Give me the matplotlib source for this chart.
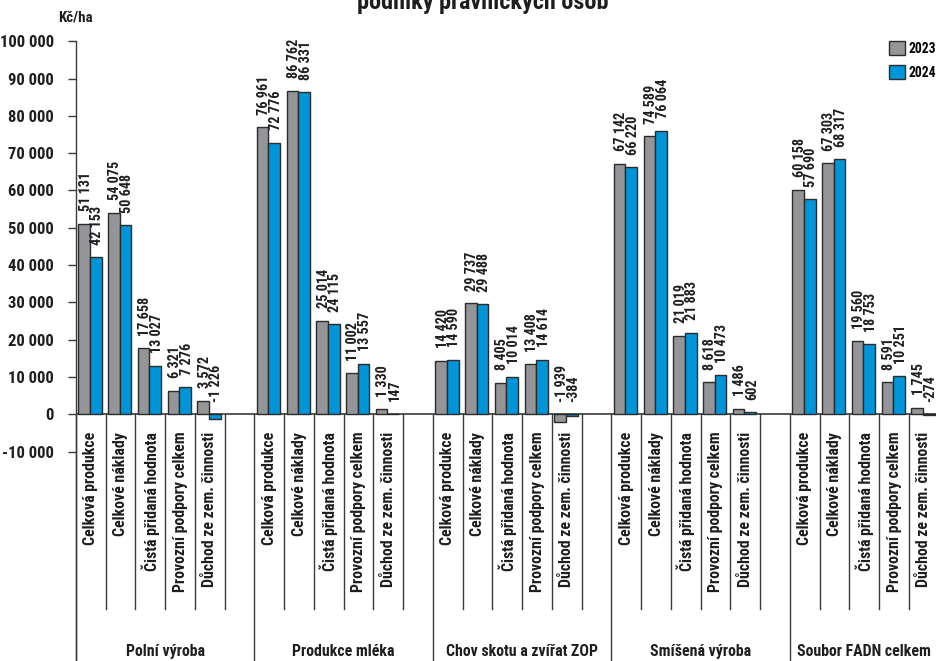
import matplotlib.pyplot as plt
import matplotlib.font_manager as fm

# pick the narrowest installed sans family (the reference uses a condensed face)
avail = {f.name for f in fm.fontManager.ttflist}
FONT, SC = "DejaVu Sans", 0.85
for fam, scale in [("Liberation Sans Narrow", 1.2), ("Roboto Condensed", 1.2), ("Roboto", 1.0)]:
    if fam in avail:
        FONT, SC = fam, scale
        break
plt.rcParams['font.family'] = [FONT, 'DejaVu Sans']
plt.rcParams['font.weight'] = 'bold'

groups = ["Polní výroba", "Produkce mléka", "Chov skotu a zvířat ZOP",
          "Smíšená výroba", "Soubor FADN celkem"]
categories = ["Celková produkce", "Celkové náklady", "Čistá přidaná hodnota",
              "Provozní podpory celkem", "Důchod ze zem. činnosti"]
series_names = ["2023", "2024"]

vals_2023 = [
    [51131, 54075, 17658, 6321, 3572],
    [76961, 86762, 25014, 11002, 1330],
    [14420, 29737, 8405, 13408, -1939],
    [67142, 74589, 21019, 8618, 1486],
    [60158, 67303, 19560, 8591, 1745],
]
vals_2024 = [
    [42153, 50648, 13027, 7276, -1226],
    [72776, 86331, 24115, 13557, 147],
    [14590, 29488, 10014, 14614, -384],
    [66220, 76064, 21883, 10473, 602],
    [57690, 68317, 18753, 10251, -274],
]
yticks = [-10000, 0, 10000, 20000, 30000, 40000, 50000, 60000, 70000, 80000, 90000, 100000]

GREY = "#939598"
BLUE = "#0095d8"
EDGE = "#2b2b2b"
TXT = "#1e1e1e"
LINE = "#3a3a3a"


def fmt(v):
    return f"{v:,}".replace(",", " ")


fig = plt.figure(figsize=(9.37, 6.61), dpi=100)
W, H = 937, 661
slot_px = 29.75
ax = fig.add_axes([76 / W, 0, 30 * slot_px / W, (H - 41.3) / H])
ax.set_xlim(0, 30)
ax.set_ylim(-66140, 100000)
x_visible = (W - 76) / slot_px  # the chart runs past the right edge of the image

bw = 0.393
n_slots = len(categories) + 1
for g in range(len(groups)):
    for c in range(len(categories)):
        x0 = g * n_slots + c
        for k, (vals, col) in enumerate([(vals_2023, GREY), (vals_2024, BLUE)]):
            v = vals[g][c]
            xc = x0 + 0.077 + bw / 2 + k * bw
            ax.bar(xc, v, width=bw, color=col, edgecolor=EDGE, linewidth=1.0, zorder=3)
            ax.annotate(fmt(v), (xc + 0.05, max(v, 0)), xytext=(0, 9),
                        textcoords="offset points", rotation=90, ha="center",
                        va="bottom", fontsize=8.5 * SC, color=TXT, zorder=4)

# zero line
ax.axhline(0, color=LINE, lw=1.2, zorder=2)

# separators and category / group labels
for i in range(31):
    if i % n_slots == 0:
        ax.plot([i, i], [0, -66140], color=LINE, lw=1.0, clip_on=False)
    else:
        ax.plot([i, i], [0, -52200], color=LINE, lw=1.0)
for g, name in enumerate(groups):
    for c, cat in enumerate(categories):
        ax.text(g * n_slots + c + 0.5, -4700, cat, rotation=90, ha="center",
                va="top", fontsize=9.5 * SC, color=TXT)
    start = g * n_slots
    end = min(start + n_slots, x_visible)
    ax.text((start + end) / 2, -63640, name, ha="center", va="center",
            fontsize=9.5 * SC, color=TXT)

ax.set_yticks(yticks)
ax.set_yticklabels([fmt(t) for t in yticks], fontsize=10 * SC, color=TXT)
ax.tick_params(axis="y", length=6, width=1, pad=10, colors=LINE, labelcolor=TXT)
ax.tick_params(axis="x", bottom=False, labelbottom=False)
for s in ["top", "right", "bottom"]:
    ax.spines[s].set_visible(False)
ax.spines["left"].set_color(LINE)
ax.spines["left"].set_linewidth(1.0)

fig.text(75 / W, 1 - 18 / H, "Kč/ha", ha="center", va="center", fontsize=9 * SC, color=TXT)
fig.text(483 / W, 1 - 9.5 / H, "podniky právnických osob", ha="center",
         va="baseline", fontsize=14.5 * SC, color=TXT)

handles = [plt.Rectangle((0, 0), 1, 1, facecolor=c, edgecolor=EDGE, lw=1.0)
           for c in (GREY, BLUE)]
fig.legend(handles, series_names, loc="upper left",
           bbox_to_anchor=(889 / W, 1 - 41 / H), frameon=False,
           handlelength=1.2, handleheight=1.2, handletextpad=0.25,
           labelspacing=0.7, borderpad=0, borderaxespad=0, fontsize=8.2 * SC)

fig.savefig("out.png", dpi=100)
